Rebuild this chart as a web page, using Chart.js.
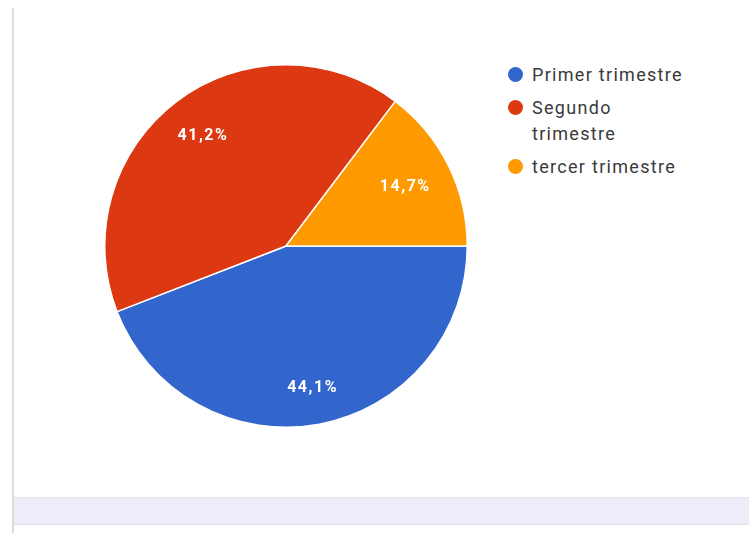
<!DOCTYPE html>
<html>
<head>
<meta charset="utf-8">
<script src="https://cdn.jsdelivr.net/npm/chart.js@4/dist/chart.umd.min.js"></script>
<style>
  html, body { margin: 0; padding: 0; background: #ffffff; }
  body { width: 749px; height: 533px; position: relative; overflow: hidden; font-family: Roboto, "Noto Sans", Arial, sans-serif; }
  .side-rule { position: absolute; left: 12px; top: 8px; width: 2px; height: 525px; background: #dcdcdc; }
  .card-end { position: absolute; left: 14px; right: 0; top: 497px; height: 1px; background: #e4e3ee; }
  .band { position: absolute; left: 14px; right: 0; top: 498px; height: 26px; background: #edecf8; }
  .band-end { position: absolute; left: 14px; right: 0; top: 524px; height: 1px; background: #e2e1ea; }
  #pieBox { position: absolute; left: 104px; top: 64px; width: 364px; height: 364px; }
  #legend { position: absolute; left: 500px; top: 62px; margin: 0; padding: 0; list-style: none; }
  #legend li { position: relative; padding-left: 32px; font-size: 18px; letter-spacing: 1.3px; line-height: 26px; color: #3a3a3a; margin-bottom: 7px; width: 155px; }
  #legend li span.dot { position: absolute; left: 8px; top: 5px; width: 15px; height: 15px; border-radius: 50%; }
</style>
</head>
<body>
<div class="side-rule"></div>
<div class="card-end"></div>
<div class="band"></div>
<div class="band-end"></div>
<div id="pieBox"><canvas id="pie"></canvas></div>
<ul id="legend"></ul>
<script>
// Respuestas por trimestre (porcentaje)
const categories = ['Primer trimestre', 'Segundo trimestre', 'tercer trimestre'];
const percents = [44.1, 41.2, 14.7];
const sliceColors = ['#3366cc', '#dc3912', '#ff9900'];

// distance of each percentage label from the centre, as a share of the radius
const labelRadius = [0.795, 0.76, 0.735];

const sliceLabels = {
  id: 'sliceLabels',
  afterDatasetsDraw(chart) {
    const ctx = chart.ctx;
    const meta = chart.getDatasetMeta(0);
    ctx.save();
    ctx.fillStyle = '#ffffff';
    ctx.font = 'bold 16px Roboto, "Noto Sans", Arial, sans-serif';
    ctx.letterSpacing = '1.5px';
    ctx.textAlign = 'center';
    ctx.textBaseline = 'middle';
    meta.data.forEach((arc, i) => {
      const p = arc.getProps(['x', 'y', 'startAngle', 'endAngle', 'outerRadius'], true);
      const mid = (p.startAngle + p.endAngle) / 2;
      const r = p.outerRadius * labelRadius[i];
      const text = percents[i].toFixed(1).replace('.', ',') + '%';
      ctx.fillText(text, p.x + Math.cos(mid) * r, p.y + Math.sin(mid) * r);
    });
    ctx.restore();
  }
};

const chart = new Chart(document.getElementById('pie'), {
  type: 'pie',
  data: {
    labels: categories,
    datasets: [{
      data: percents,
      backgroundColor: sliceColors,
      borderColor: '#ffffff',
      borderWidth: 1.5
    }]
  },
  options: {
    responsive: true,
    maintainAspectRatio: false,
    animation: false,
    rotation: 90,
    layout: { padding: 0 },
    plugins: {
      legend: { display: false },
      tooltip: { enabled: false }
    }
  },
  plugins: [sliceLabels]
});

// legend list built from the same categories and colours
const legend = document.getElementById('legend');
categories.forEach((name, i) => {
  const li = document.createElement('li');
  const dot = document.createElement('span');
  dot.className = 'dot';
  dot.style.background = sliceColors[i];
  li.appendChild(dot);
  li.appendChild(document.createTextNode(name));
  legend.appendChild(li);
});
</script>
</body>
</html>
